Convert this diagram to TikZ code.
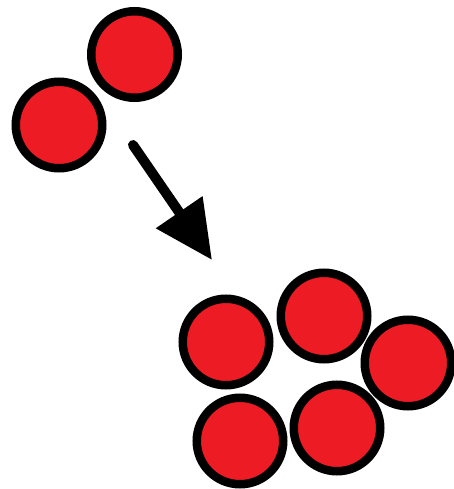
\documentclass[tikz,border=0pt]{standalone}
\usetikzlibrary{arrows.meta}
\definecolor{ballred}{RGB}{237,28,36}
\tikzset{
  ball/.style={circle, draw=black, fill=ballred, line width=8.5pt, minimum size=86.5pt, inner sep=0pt},
  bigarrow/.style={line width=10pt, -{Triangle[length=58pt, width=54pt]}, line cap=round}
}
\begin{document}
\begin{tikzpicture}[x=1pt, y=-1pt]
\useasboundingbox (0,0) rectangle (454,489);
\node[ball] (t1) at (134.5,54.5) {};
\node[ball] (t2) at (59,125) {};
\node[ball] (b1) at (226,342) {};
\node[ball] (b2) at (324,316) {};
\node[ball] (b3) at (408,363) {};
\node[ball] (b4) at (240,441) {};
\node[ball] (b5) at (337,428) {};
\coordinate (as) at (133,145);
\coordinate (ae) at (212,260);
\draw[bigarrow] (as) -- (ae);
\end{tikzpicture}
\end{document}
